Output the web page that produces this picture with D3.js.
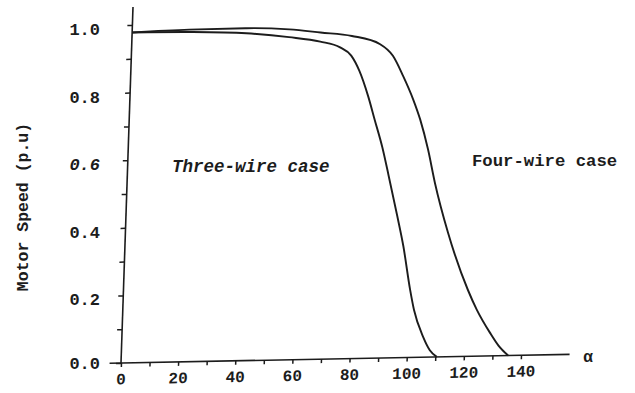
<!DOCTYPE html>
<html>
<head>
<meta charset="utf-8">
<script src="https://cdn.jsdelivr.net/npm/d3@7"></script>
<style>
  body { margin: 0; background: #fff; }
  text { font-family: "Liberation Mono", "DejaVu Sans Mono", monospace; font-weight: bold; fill: #1c1c1c; }
</style>
</head>
<body>
<svg id="chart" width="635" height="393"></svg>
<script>
// firing angle alpha (deg) and motor speed (p.u)
const alphaThree = [0, 20, 40, 55, 66, 73, 77, 80, 83.4, 86, 89, 91.5, 95, 97.5, 100.4, 102, 105.5, 108, 110.5];
const speedThree = [0.978, 0.976, 0.969, 0.955, 0.940, 0.922, 0.897, 0.852, 0.776, 0.705, 0.623, 0.540, 0.420, 0.330, 0.200, 0.140, 0.060, 0.020, 0];

const alphaFour = [0, 20, 40, 55, 66, 77, 87, 91.6, 95.4, 99.2, 101.9, 105, 107.8, 113, 120.6, 124, 128.9, 132, 135.5];
const speedFour = [0.978, 0.983, 0.984, 0.978, 0.967, 0.955, 0.929, 0.894, 0.834, 0.764, 0.704, 0.615, 0.516, 0.367, 0.197, 0.137, 0.068, 0.030, 0];

const xTicks = d3.range(0, 141, 10);
const yTicks = d3.range(0, 1.01, 0.1);
const yLabels = [0, 0.2, 0.4, 0.6, 0.8, 1.0];

const svg = d3.select('#chart');

// the scan is slightly skewed, so the plot frame is sheared a little
const origin = {x: 121, y: 363};
const frame = svg.append('g')
  .attr('transform', `matrix(1,-0.0193,-0.0337,1,${origin.x},${origin.y})`);

const x = d3.scaleLinear().domain([0, 140]).range([0, 400]);
const y = d3.scaleLinear().domain([0, 1]).range([0, -338]);

// axis lines drawn by hand so they can run past the last tick
frame.append('line')
  .attr('x1', x(-4)).attr('x2', x(157))
  .attr('y1', 0).attr('y2', 0)
  .attr('stroke', '#1c1c1c').attr('stroke-width', 1.6);
frame.append('line')
  .attr('x1', 0).attr('x2', 0)
  .attr('y1', 0).attr('y2', y(1.053))
  .attr('stroke', '#1c1c1c').attr('stroke-width', 1.6);

const xAxis = frame.append('g')
  .call(d3.axisBottom(x)
    .tickValues(xTicks)
    .tickSize(4)
    .tickPadding(6)
    .tickSizeOuter(0)
    .tickFormat(d => (d % 20 === 0 ? d : '')));
xAxis.select('.domain').remove();
xAxis.selectAll('line').attr('stroke', '#1c1c1c').attr('stroke-width', 1.5);
xAxis.selectAll('text')
  .attr('fill', '#1c1c1c')
  .style('font-size', '16px')
  .style('font-family', '"Liberation Mono", monospace');

const yAxis = frame.append('g')
  .call(d3.axisLeft(y)
    .tickValues(yTicks)
    .tickSize(5)
    .tickSizeOuter(0)
    .tickFormat(''));
yAxis.select('.domain').remove();
yAxis.selectAll('line').attr('stroke', '#1c1c1c').attr('stroke-width', 1.5);

// the curves
const line = d3.line()
  .x(d => x(d[0]))
  .y(d => y(d[1]))
  .curve(d3.curveMonotoneX);

const threeWire = alphaThree.map((a, i) => [a, speedThree[i]]);
const fourWire = alphaFour.map((a, i) => [a, speedFour[i]]);

[threeWire, fourWire].forEach(pts => {
  frame.append('path')
    .datum(pts)
    .attr('d', line)
    .attr('fill', 'none')
    .attr('stroke', '#1c1c1c')
    .attr('stroke-width', 1.9);
});

// y tick labels were typed straight, not following the skewed axis
svg.append('g')
  .selectAll('text')
  .data(yLabels)
  .join('text')
  .attr('x', 100)
  .attr('y', d => origin.y + y(d) + (d > 0 ? 4 : 0))
  .attr('dy', '0.35em')
  .attr('text-anchor', 'end')
  .style('font-size', '17px')
  .style('font-style', d => (d === 0.6 ? 'italic' : 'normal'))
  .text(d => d.toFixed(1));

svg.append('text')
  .attr('transform', 'translate(28,207) rotate(-90)')
  .attr('text-anchor', 'middle')
  .style('font-size', '16.5px')
  .text('Motor Speed (p.u)');

svg.append('text')
  .attr('x', 588)
  .attr('y', 356)
  .attr('dy', '0.35em')
  .attr('text-anchor', 'middle')
  .style('font-size', '16px')
  .text('α');

svg.append('text')
  .attr('x', 172)
  .attr('y', 172)
  .style('font-size', '17.5px')
  .style('font-style', 'italic')
  .text('Three-wire case');

svg.append('text')
  .attr('x', 472)
  .attr('y', 166)
  .style('font-size', '17.3px')
  .text('Four-wire case');
</script>
</body>
</html>
